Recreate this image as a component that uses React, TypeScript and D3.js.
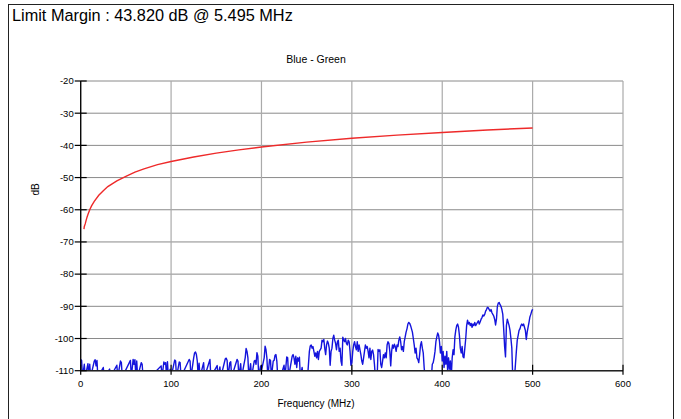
import React from "react";
import * as d3 from "d3";

const TITLE = "Limit Margin : 43.820 dB @ 5.495 MHz";
const SUBTITLE = "Blue - Green";
const X_LABEL = "Frequency (MHz)";
const Y_LABEL = "dB";

const xTicks = [0, 100, 200, 300, 400, 500, 600];
const yTicks = [-20, -30, -40, -50, -60, -70, -80, -90, -100, -110];

// Red limit line: [MHz, dB]
const limitLine: [number, number][] = [
  [3.6, -66], [4, -65.2], [5, -64.4], [6, -63.3], [7, -62.3], [8, -61.5], [10, -60], [12, -58.8],
  [15, -57.4], [20, -55.5], [25, -54.1], [30, -52.8], [40, -51], [50, -49.6], [60, -48.3],
  [70, -47.3], [85, -46], [100, -45], [125, -43.6], [150, -42.4], [175, -41.4], [200, -40.5],
  [250, -39], [300, -37.8], [350, -36.8], [400, -36], [450, -35.2], [500, -34.6],
];

// Blue measured trace: [MHz, dB] (values below -110 are off the chart floor)
const trace: [number, number][] = [
  [0,-106.5],[1,-106.8],[2,-112],[4,-108],[5,-112],[8,-107.8],[9,-112],[10,-108],[11,-112],[15,-107],[16,-106.6],[17,-108.5],[18,-106.8],[19,-112],
  [25,-109],[26,-112],[32,-109.5],[33,-112],[40,-108.3],[41,-112],[44,-107],[45,-107.5],[46,-112],[55,-106.8],[56,-112],[58,-106.5],[59,-108],[60,-106.6],
  [61,-112],[62,-107],[63,-112],[67,-107.5],[68,-108],[69,-112],[76,-110],[77,-112],[89,-108.5],[90,-112],[92,-107.3],[93,-108],[94,-107.5],[95,-112],
  [96,-107.2],[97,-112],[99,-109.5],[100,-112],[104,-106.7],[105,-107],[106,-112],
  [109,-107.3],[110,-107.5],[111,-112],[120,-106.5],[121,-107],[122,-112],[125,-106],[126,-104.5],[127,-104.2],[128,-105],[129,-107],[130,-112],
  [131,-107.7],[132,-112],[136,-107.5],[137,-112],[143,-106.5],[144,-112],[151,-108.4],[152,-112],[154,-108.8],[155,-112],[160,-106.3],[161,-106.1],
  [162,-106.8],[163,-112],[165,-107.5],[166,-107.2],[167,-112],[173,-106.5],[174,-107],[175,-112],[177,-107.8],[178,-112],[182,-106],[183,-103.1],
  [184,-104],[185,-106],[186,-112],[188,-107.8],[189,-112],[192,-107],[193,-106.8],[194,-108],[195,-104.4],[196,-105.5],[197,-112],[199,-108.5],
  [200,-110],[203,-106],[204,-102.4],[205,-103.5],[206,-106],[207,-112],[209,-106.5],[210,-106.8],[211,-112],[213,-107],[214,-106.8],
  [215,-105.2],[216,-105],[217,-107],[218,-112],[221,-112],[225,-108.3],[226,-112],[228,-105.7],[229,-106],[230,-112],[234,-105.5],[235,-105],
  [236,-106],[237,-108],[238,-105.5],[239,-109],[240,-106],[241,-107],[242,-105.8],[243,-112],[245,-109],[246,-112],[248,-110],[249,-112],[251,-112],
  [253,-104],[254,-102.3],[255,-102],[256,-103],[257,-102.5],[258,-104],[259,-105.5],[260,-104.5],[261,-106],[262,-104],[263,-106.5],[264,-104],
  [266,-103],[267,-100.5],[268,-101],[269,-100.3],[270,-103],[271,-105],[272,-102],[273,-100.8],[274,-101.5],[275,-103],[276,-108.3],[277,-104],
  [278,-103],[279,-100],[280,-99],[281,-100.5],[282,-101.5],[283,-103.5],[284,-101],[285,-100.5],[286,-104],[287,-103],[288,-107],[289,-108.3],
  [290,-99.6],[291,-100.5],[292,-101],[293,-100],[294,-101.5],[295,-102],[296,-100.5],[297,-101],[298,-104],[299,-108.3],[300,-107.5],[301,-104],
  [302,-102],[303,-101],[304,-102.5],[305,-103.5],[306,-101],[307,-104],[308,-102],[309,-103.5],[310,-105],[311,-107],[312,-108],[313,-106],
  [314,-104],[315,-102],[316,-103],[317,-102.5],[318,-104],
  [319,-106],[320,-103],[321,-106.5],[322,-104],[323,-103.6],[324,-105],[325,-108],[326,-112],[328,-112],[329,-103.4],[330,-104],[331,-103.5],
  [332,-108],[333,-109],[334,-107],[335,-105],[336,-106],[337,-104.5],[338,-106],[339,-102],[340,-101],[341,-101.5],[342,-104],[343,-108.5],
  [344,-104],[345,-102],[346,-103],[347,-101.8],[348,-102.5],[349,-104],[350,-102],[351,-102.5],[352,-100.5],[353,-99.5],[354,-101],[355,-103.5],
  [356,-102.5],[357,-104],[358,-101],[359,-99.5],[360,-98],[361,-97],[362,-95.5],[363,-95],[364,-95.3],[365,-96],[366,-97],[367,-98],[368,-100],
  [369,-102],[370,-104.5],[371,-103],[372,-106],[373,-106.5],[374,-107.5],[375,-105],[376,-102],[377,-101],[378,-103],[379,-104.5],[380,-109],
  [381,-112],[385,-112],[386,-110],[387,-112],[388,-112],[389,-108],[390,-107.5],[391,-106],[392,-104],[393,-101],[394,-99.5],[395,-98.3],
  [396,-99],[397,-101],[398,-104.5],[399,-102.5],[400,-107],[401,-104],[402,-109],[403,-105.5],[404,-108],[405,-104],[406,-110],[407,-106],
  [408,-109.5],[409,-107],[410,-112],[411,-106],[412,-103.5],[413,-105],[414,-99.5],[415,-97.4],[416,-96],[417,-95.5],[418,-96.5],[419,-99],
  [420,-103],[421,-104.5],[422,-102.5],[423,-105.7],[424,-106],[425,-103],[426,-100],[427,-96],[428,-94.3],[429,-95.5],[430,-95],[431,-96],
  [432,-95.3],[433,-96.5],[434,-95.5],[435,-96],[436,-95],[437,-96],[438,-95.5],[439,-95],[440,-94.5],[441,-95.5],[442,-94.8],[443,-94],
  [444,-93.5],[445,-92.7],[446,-93],[447,-92.5],[448,-91.5],[449,-91],[450,-90.3],[451,-90.5],[452,-91],[453,-91.5],[454,-91],[455,-92],
  [456,-92.5],[457,-93],[458,-94],[459,-95.8],[460,-94],[461,-90],[462,-89],[463,-88.8],[464,-89.5],[465,-90],[466,-91],[467,-92.5],[468,-97],
  [469,-102.5],[470,-105.7],[471,-96],[472,-94],[473,-95],[474,-96],[475,-97.5],[476,-100],[477,-103],[478,-112],[480,-112],[481,-108],
  [482,-104],[483,-100.5],[484,-99],[485,-97.5],[486,-97],[487,-96],[488,-95.5],[489,-96],[490,-95.5],[491,-96.5],[492,-97.5],[493,-100.3],
  [494,-98],[495,-96.5],[496,-95],[497,-93.3],[498,-92.5],[499,-91.5],[500,-90.9],
];

const W = 681;
const H = 419;
const LEFT = 80.7;
const RIGHT = 623;
const TOP = 81;
const BOTTOM = 370.7;
const FONT = "'Liberation Sans', Arial, Helvetica, sans-serif";

export default function App() {
  const x = d3.scaleLinear().domain([0, 600]).range([LEFT, RIGHT]);
  const y = d3.scaleLinear().domain([-110, -20]).range([BOTTOM, TOP]);
  const line = d3
    .line<[number, number]>()
    .x((d) => x(d[0]))
    .y((d) => y(d[1]));

  return (
    <svg
      width={W}
      height={H}
      style={{ position: "absolute", left: 0, top: 0, background: "#fff" }}
      fontFamily={FONT}
    >
      <defs>
        <clipPath id="plotClip">
          <rect x={LEFT} y={TOP - 2} width={RIGHT - LEFT} height={BOTTOM - TOP + 2} />
        </clipPath>
      </defs>
      <rect x={8.5} y={4.5} width={665} height={430} fill="#fff" stroke="#222" strokeWidth={1} />
      <text x={12} y={21} fontSize={16.3} fill="#000">
        {TITLE}
      </text>
      <text x={316} y={63} fontSize={10.5} textAnchor="middle" fill="#000">
        {SUBTITLE}
      </text>

      {/* grid */}
      {yTicks.map((t) => (
        <line key={"gy" + t} x1={LEFT} x2={RIGHT} y1={y(t)} y2={y(t)} stroke="#8a8a8a" strokeWidth={1} />
      ))}
      {xTicks.map((t) => (
        <line key={"gx" + t} x1={x(t)} x2={x(t)} y1={TOP} y2={BOTTOM} stroke="#aaaaaa" strokeWidth={1.2} />
      ))}

      {/* data */}
      <g clipPath="url(#plotClip)">
        <path d={line(limitLine) || ""} fill="none" stroke="#ee2a2a" strokeWidth={1.4} />
        <path d={line(trace) || ""} fill="none" stroke="#1414dc" strokeWidth={1.4} strokeLinejoin="round" />
      </g>

      {/* axes */}
      <line x1={LEFT} x2={LEFT} y1={TOP} y2={BOTTOM} stroke="#000" strokeWidth={1.3} />
      <line x1={LEFT} x2={RIGHT} y1={BOTTOM} y2={BOTTOM} stroke="#222" strokeWidth={1.6} />
      {yTicks.map((t) => (
        <g key={"ty" + t}>
          <line x1={LEFT - 6} x2={LEFT + 6} y1={y(t)} y2={y(t)} stroke="#000" strokeWidth={1.2} />
          <text x={LEFT - 7} y={y(t)} dy="0.35em" fontSize={9.5} textAnchor="end" fill="#000">
            {t}
          </text>
        </g>
      ))}
      {xTicks.map((t) => (
        <g key={"tx" + t}>
          <line x1={x(t)} x2={x(t)} y1={BOTTOM - 6} y2={BOTTOM + 4} stroke="#000" strokeWidth={1.2} />
          <text x={x(t)} y={386.5} fontSize={9.5} textAnchor="middle" fill="#000">
            {t}
          </text>
        </g>
      ))}
      <text x={316} y={407} fontSize={10} textAnchor="middle" fill="#000">
        {X_LABEL}
      </text>
      <text
        transform={`translate(38.5, 189.5) rotate(-90)`}
        fontSize={10}
        textAnchor="middle"
        fill="#000"
      >
        {Y_LABEL}
      </text>
    </svg>
  );
}
